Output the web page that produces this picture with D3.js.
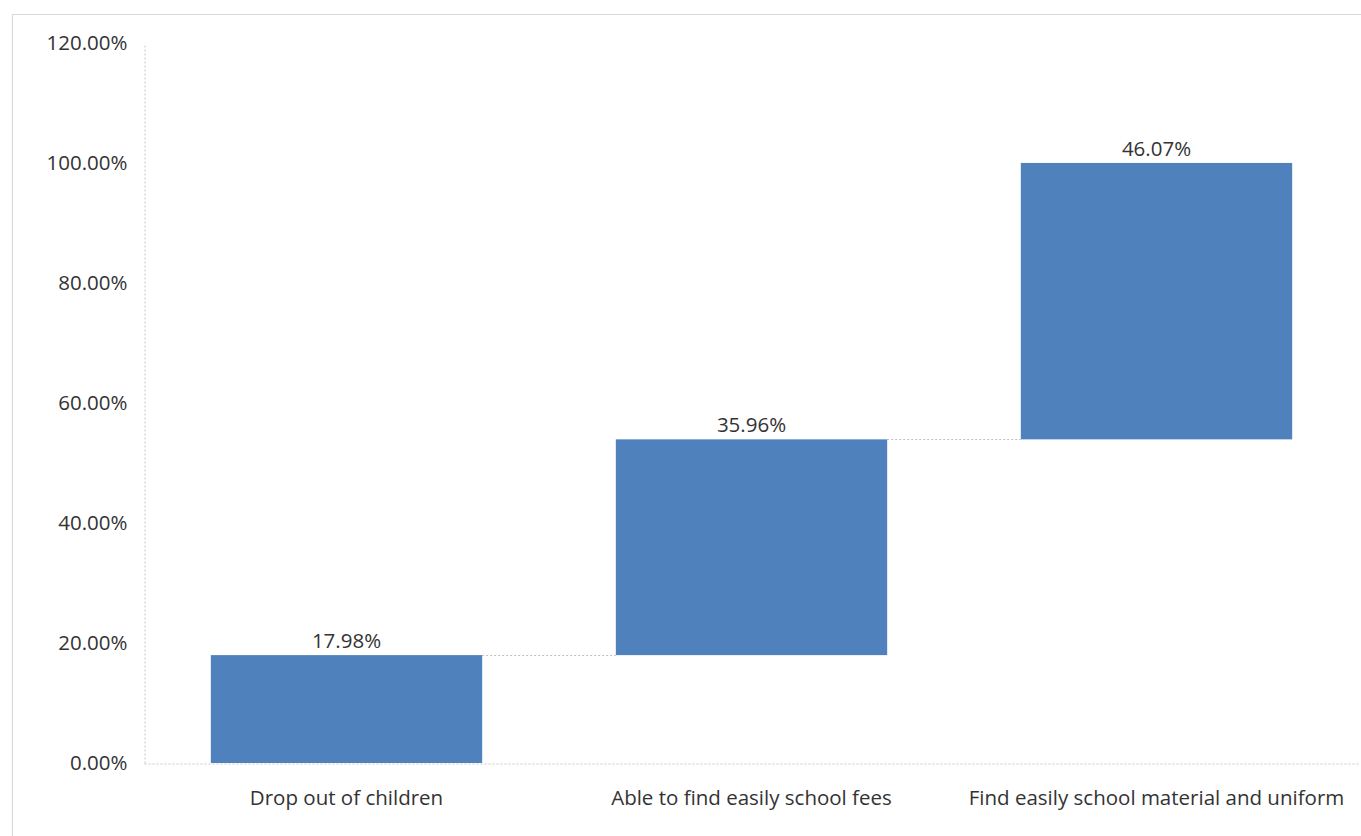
<!DOCTYPE html>
<html>
<head>
<meta charset="utf-8">
<script src="https://cdn.jsdelivr.net/npm/d3@7"></script>
<style>
  html, body { margin: 0; padding: 0; background: #fff; }
  svg { display: block; }
  text { font-family: "Open Sans", Lato, sans-serif; fill: #333; }
</style>
</head>
<body>
<svg id="chart" width="1361" height="836"></svg>
<script>
// Waterfall of school-related shares
const categories = ["Drop out of children", "Able to find easily school fees", "Find easily school material and uniform"];
const values = [17.98, 35.96, 46.07];
const tickValues = [0, 20, 40, 60, 80, 100, 120];

// running totals: each step starts where the previous ended
const steps = [];
let running = 0;
categories.forEach((c, i) => {
  steps.push({ cat: c, start: running, end: running + values[i], value: values[i] });
  running += values[i];
});

const W = 1361, H = 836;
const margin = { left: 144, right: 2, top: 43, bottom: 73 };
const fontSize = "20.5px";
const svg = d3.select("#chart");

// outer frame
svg.append("path")
  .attr("d", `M12.5,${H} V14.5 H${W}`)
  .attr("fill", "none")
  .attr("stroke", "#d9d9d9")
  .attr("stroke-width", 1.2);

const x = d3.scaleBand()
  .domain(categories)
  .range([margin.left, W - margin.right])
  .paddingInner(0.33)
  .paddingOuter(0.165);

const y = d3.scaleLinear()
  .domain([0, 120])
  .range([H - margin.bottom, margin.top]);

// y axis: dotted line and percentage labels
const yAxis = d3.axisLeft(y)
  .tickValues(tickValues)
  .tickSize(0)
  .tickPadding(17)
  .tickFormat(d => d3.format(".2f")(d) + "%");

const gy = svg.append("g")
  .attr("transform", `translate(${margin.left + 0.5},0)`)
  .call(yAxis);
gy.select(".domain")
  .attr("stroke", "#c8c8c8")
  .attr("stroke-dasharray", "2,2");
gy.selectAll(".tick text")
  .style("font-size", fontSize)
  .attr("fill", "#333");

// x axis baseline
const xAxis = d3.axisBottom(x).tickSize(0).tickPadding(27);
const gx = svg.append("g")
  .attr("transform", `translate(0,${y(0) + 0.5})`)
  .call(xAxis);
gx.select(".domain")
  .attr("stroke", "#c8c8c8")
  .attr("stroke-dasharray", "2,2");
gx.selectAll(".tick text")
  .style("font-size", fontSize)
  .attr("fill", "#333");

// connectors between consecutive steps
const conn = steps.slice(0, -1).map((s, i) => ({ from: s, to: steps[i + 1] }));
svg.append("g").selectAll("line")
  .data(conn)
  .join("line")
  .attr("x1", d => x(d.from.cat) + x.bandwidth())
  .attr("x2", d => x(d.to.cat))
  .attr("y1", d => Math.round(y(d.from.end)) + 0.5)
  .attr("y2", d => Math.round(y(d.from.end)) + 0.5)
  .attr("stroke", "#bfbfbf")
  .attr("stroke-dasharray", "2,2");

// bars
svg.append("g").selectAll("rect")
  .data(steps)
  .join("rect")
  .attr("x", d => x(d.cat))
  .attr("width", x.bandwidth())
  .attr("y", d => y(d.end))
  .attr("height", d => y(d.start) - y(d.end))
  .attr("fill", "#4f81bd");

// value labels
svg.append("g").selectAll("text")
  .data(steps)
  .join("text")
  .attr("x", d => x(d.cat) + x.bandwidth() / 2)
  .attr("y", d => y(d.end) - 7)
  .attr("text-anchor", "middle")
  .style("font-size", fontSize)
  .text(d => d3.format(".2f")(d.value) + "%");
</script>
</body>
</html>
